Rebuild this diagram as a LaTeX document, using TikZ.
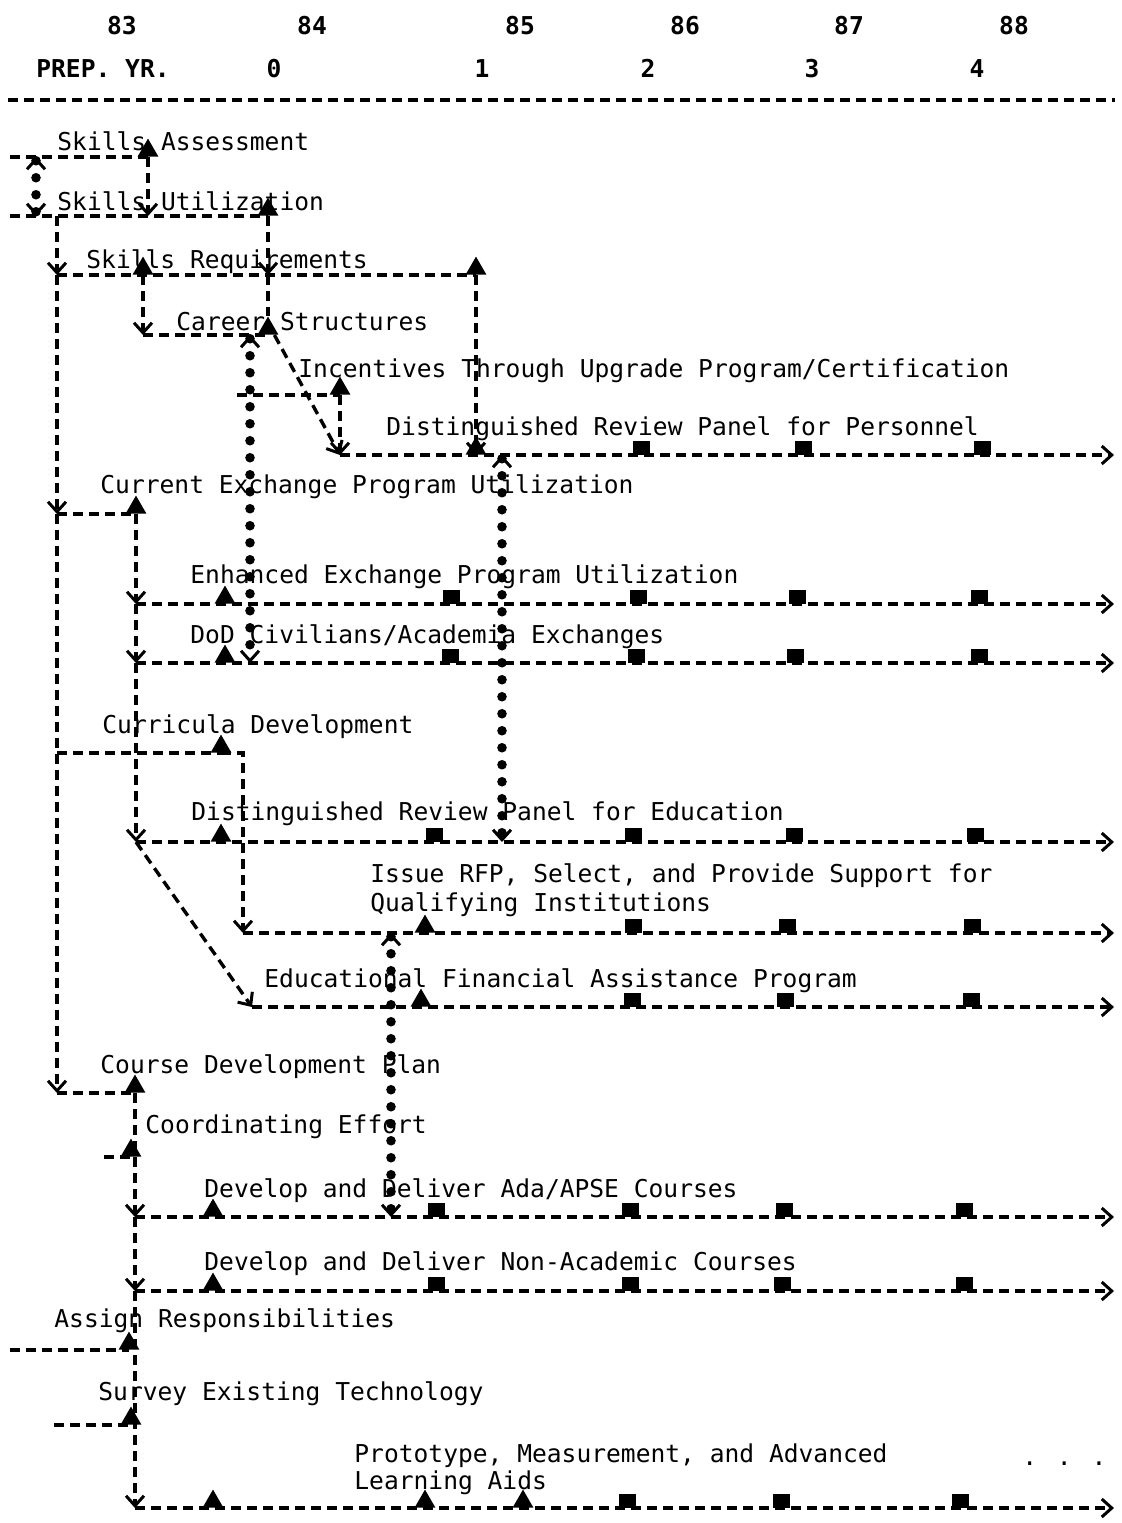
\documentclass[tikz,border=0pt]{standalone}
\usepackage{fontspec}
\newfontfamily\typefont{DejaVu Sans Mono}
\usetikzlibrary{arrows.meta,shapes.geometric}

\tikzset{
  every node/.style={inner sep=0pt},
  task/.style={font={\typefont\fontsize{12.3}{15}\selectfont}, anchor=base west},
  head/.style={font={\typefont\bfseries\fontsize{12.3}{15}\selectfont}, anchor=base},
  plan/.style={line width=1.7pt, dash pattern=on 5pt off 3pt},
  link/.style={line width=4.8pt, line cap=round, dash pattern=on 0pt off 8.5pt},
  barb/.style={-{Straight Barb[length=5pt,width=9pt,line width=1.5pt]}},
  twin/.style={{Straight Barb[length=5pt,width=9pt,line width=1.5pt]}-{Straight Barb[length=5pt,width=9pt,line width=1.5pt]}},
  launch/.style={regular polygon, regular polygon sides=3, fill, minimum size=12pt, anchor=south},
  review/.style={rectangle, fill, minimum width=8.5pt, minimum height=7pt, anchor=south}
}

\begin{document}
\begin{tikzpicture}[x=0.5pt,y=-0.5pt]
\useasboundingbox (0,0) rectangle (1121,1523);

\node[head] (y83) at (122,34) {83};
\node[head] (y84) at (312,34) {84};
\node[head] (y85) at (520,34) {85};
\node[head] (y86) at (685,34) {86};
\node[head] (y87) at (849,34) {87};
\node[head] (y88) at (1014,34) {88};
\node[head] (prep) at (103,77) {PREP. YR.};
\node[head] (n0) at (274,77) {0};
\node[head] (n1) at (482,77) {1};
\node[head] (n2) at (648,77) {2};
\node[head] (n3) at (812,77) {3};
\node[head] (n4) at (977,77) {4};
\coordinate (rule-l) at (8,100);
\coordinate (rule-r) at (1115,100);
\draw[plan] (rule-l) -- (rule-r);

\node[task] (sa) at (57,150) {Skills Assessment};
\node[task] (su) at (57,210) {Skills Utilization};
\node[task] (sr) at (86,268) {Skills Requirements};
\node[task] (cs) at (176,330) {Career Structures};
\node[task] (in) at (298,377) {Incentives Through Upgrade Program/Certification};
\node[task] (dp) at (386,435) {Distinguished Review Panel for Personnel};
\node[task] (ce) at (100,493) {Current Exchange Program Utilization};
\node[task] (en) at (190,583) {Enhanced Exchange Program Utilization};
\node[task] (dd) at (190,643) {DoD Civilians/Academia Exchanges};
\node[task] (cu) at (102,733) {Curricula Development};
\node[task] (de) at (191,820) {Distinguished Review Panel for Education};
\node[task] (rf) at (370,882) {Issue RFP, Select, and Provide Support for};
\node[task] (rf2) at (370,911) {Qualifying Institutions};
\node[task] (ef) at (264,987) {Educational Financial Assistance Program};
\node[task] (cd) at (100,1073) {Course Development Plan};
\node[task] (co) at (145,1133) {Coordinating Effort};
\node[task] (ad) at (204,1197) {Develop and Deliver Ada/APSE Courses};
\node[task] (na) at (204,1270) {Develop and Deliver Non-Academic Courses};
\node[task] (ar) at (54,1327) {Assign Responsibilities};
\node[task] (sv) at (98,1400) {Survey Existing Technology};
\node[task] (pr) at (354,1462) {Prototype, Measurement, and Advanced};
\node[task] (pr2) at (354,1489) {Learning Aids};
\node[task] (more) at (1022,1465) {. . .};

\coordinate (sa-l) at (10,157);
\coordinate (sa-d) at (36,157);
\coordinate (su-l) at (10,216);
\coordinate (su-d) at (36,216);
\coordinate (su-b) at (57,216);
\coordinate (sr-s) at (57,275);
\coordinate (cs-s) at (143,335);
\coordinate (cs-d) at (250,335);
\coordinate (in-s) at (237,395);
\coordinate (dp-s) at (340,455);
\coordinate (dp-d) at (502,455);
\coordinate (dp-e) at (1114,455);
\coordinate (ce-s) at (57,514);
\coordinate (en-s) at (136,604);
\coordinate (en-e) at (1114,604);
\coordinate (dd-s) at (136,663);
\coordinate (dd-d) at (250,663);
\coordinate (dd-e) at (1114,663);
\coordinate (cu-s) at (57,753);
\coordinate (de-s) at (136,842);
\coordinate (de-d) at (502,842);
\coordinate (de-e) at (1114,842);
\coordinate (rf-s) at (243,933);
\coordinate (rf-d) at (391,933);
\coordinate (rf-e) at (1114,933);
\coordinate (ef-s) at (252,1007);
\coordinate (ef-e) at (1114,1007);
\coordinate (cd-s) at (57,1093);
\coordinate (co-l) at (104,1157);
\coordinate (ad-s) at (135,1217);
\coordinate (ad-d) at (391,1217);
\coordinate (ad-e) at (1114,1217);
\coordinate (na-s) at (135,1291);
\coordinate (na-e) at (1114,1291);
\coordinate (ar-l) at (10,1350);
\coordinate (sv-l) at (54,1425);
\coordinate (pr-s) at (135,1508);
\coordinate (pr-e) at (1114,1508);

\node[launch] (sa-m) at (148,157) {};
\node[launch] (su-m) at (268,216) {};
\node[launch] (sr-m1) at (143,275) {};
\node[launch] (sr-m2) at (476,275) {};
\node[launch] (cs-m) at (268,335) {};
\node[launch] (in-m) at (340,395) {};
\node[launch] (dp-m) at (476,455) {};
\node[review] (dp-2) at (641,455) {};
\node[review] (dp-3) at (803,455) {};
\node[review] (dp-4) at (982,455) {};
\node[launch] (ce-m) at (136,514) {};
\node[launch] (en-m) at (225,604) {};
\node[review] (en-1) at (451,604) {};
\node[review] (en-2) at (638,604) {};
\node[review] (en-3) at (797,604) {};
\node[review] (en-4) at (979,604) {};
\node[launch] (dd-m) at (225,663) {};
\node[review] (dd-1) at (450,663) {};
\node[review] (dd-2) at (636,663) {};
\node[review] (dd-3) at (795,663) {};
\node[review] (dd-4) at (979,663) {};
\node[launch] (cu-m) at (221,753) {};
\node[launch] (de-m) at (221,842) {};
\node[review] (de-1) at (434,842) {};
\node[review] (de-2) at (633,842) {};
\node[review] (de-3) at (794,842) {};
\node[review] (de-4) at (975,842) {};
\node[launch] (rf-m) at (425,933) {};
\node[review] (rf-2) at (633,933) {};
\node[review] (rf-3) at (787,933) {};
\node[review] (rf-4) at (972,933) {};
\node[launch] (ef-m) at (421,1007) {};
\node[review] (ef-2) at (632,1007) {};
\node[review] (ef-3) at (785,1007) {};
\node[review] (ef-4) at (971,1007) {};
\node[launch] (cd-m) at (135,1093) {};
\node[launch] (co-m) at (131,1157) {};
\node[launch] (ad-m) at (213,1217) {};
\node[review] (ad-1) at (436,1217) {};
\node[review] (ad-2) at (630,1217) {};
\node[review] (ad-3) at (784,1217) {};
\node[review] (ad-4) at (964,1217) {};
\node[launch] (na-m) at (213,1291) {};
\node[review] (na-1) at (436,1291) {};
\node[review] (na-2) at (630,1291) {};
\node[review] (na-3) at (782,1291) {};
\node[review] (na-4) at (964,1291) {};
\node[launch] (ar-m) at (129,1350) {};
\node[launch] (sv-m) at (131,1425) {};
\node[launch] (pr-m1) at (213,1508) {};
\node[launch] (pr-m2) at (425,1508) {};
\node[launch] (pr-m3) at (523,1508) {};
\node[review] (pr-2) at (627,1508) {};
\node[review] (pr-3) at (781,1508) {};
\node[review] (pr-4) at (960,1508) {};

\draw[plan] (sa-l) -- (sa-m.south);
\draw[plan] (su-l) -- (su-m.south);
\draw[plan] (sr-s) -- (sr-m2.south);
\draw[plan] (cs-s) -- (cs-m.south);
\draw[plan] (in-s) -- (in-m.south);
\draw[plan,barb] (dp-s) -- (dp-e);
\draw[plan] (ce-s) -- (ce-m.south);
\draw[plan,barb] (en-s) -- (en-e);
\draw[plan,barb] (dd-s) -- (dd-e);
\draw[plan] (cu-s) -- (cu-m.south);
\draw[plan,barb] (de-s) -- (de-e);
\draw[plan,barb] (rf-s) -- (rf-e);
\draw[plan,barb] (ef-s) -- (ef-e);
\draw[plan] (cd-s) -- (cd-m.south);
\draw[plan] (co-l) -- (co-m.south);
\draw[plan,barb] (ad-s) -- (ad-e);
\draw[plan,barb] (na-s) -- (na-e);
\draw[plan] (ar-l) -- (ar-m.south);
\draw[plan] (sv-l) -- (sv-m.south);
\draw[plan,barb] (pr-s) -- (pr-e);

\draw[plan,barb] (sa-m.south) -- (sa-m.south |- su-l);
\draw[plan,barb] (su-b) -- (sr-s);
\draw[plan,barb] (su-m.south) -- (su-m.south |- sr-s);
\draw[plan] (su-m.south |- sr-s) -- (cs-m.north);
\draw[plan,barb] (sr-m1.south) -- (cs-s);
\draw[plan,barb] (sr-m2.south) -- (dp-m.south);
\draw[plan,barb] (cs-m.south east) -- (dp-s);
\draw[plan,barb] (in-m.south) -- (dp-s);
\draw[plan,barb] (sr-s) -- (ce-s);
\draw[plan,barb] (ce-s) -- (cd-s);
\draw[plan,barb] (ce-m.south) -- (en-s);
\draw[plan,barb] (en-s) -- (dd-s);
\draw[plan,barb] (dd-s) -- (de-s);
\draw[plan,barb] (cu-m.south) -| (rf-s);
\draw[plan,barb] (de-s) -- (ef-s);
\draw[plan,barb] (cd-m.south) -- (ad-s);
\draw[plan,barb] (ad-s) -- (na-s);
\draw[plan,barb] (na-s) -- (pr-s);

\draw[link,twin] (sa-d) -- (su-d);
\draw[link,twin] (cs-d) -- (dd-d);
\draw[link,twin] (dp-d) -- (de-d);
\draw[link,twin] (rf-d) -- (ad-d);
\end{tikzpicture}
\end{document}
